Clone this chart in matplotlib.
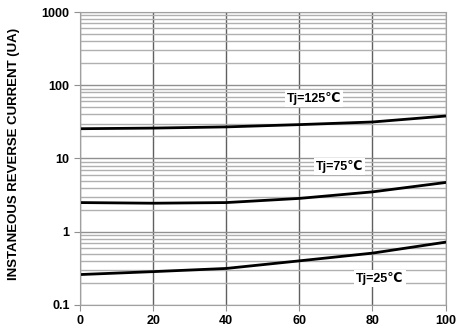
import numpy as np
import matplotlib.pyplot as plt
from matplotlib.ticker import FixedLocator, NullFormatter

plt.rcParams['font.family'] = ['Liberation Sans Narrow', 'Liberation Sans', 'DejaVu Sans']

# percent of rated reverse voltage
volts = [0, 20, 40, 60, 80, 100]
cur_125 = [25.5, 26.0, 27.0, 29.0, 31.5, 38.0]
cur_75 = [2.5, 2.45, 2.5, 2.85, 3.5, 4.7]
cur_25 = [0.26, 0.285, 0.315, 0.40, 0.51, 0.72]

labels = ['Tj=125\u2103', 'Tj=75\u2103', 'Tj=25\u2103']
label_pos = [(64, 66), (71, 7.8), (82, 0.23)]

xticks = [0, 20, 40, 60, 80, 100]
yticks = [0.1, 1, 10, 100, 1000]
ytick_labels = ['0.1', '1', '10', '100', '1000']

fig = plt.figure(figsize=(4.57, 3.34), dpi=100)
ax = fig.add_axes([0.175, 0.087, 0.80, 0.877])

ax.set_yscale('log')
ax.set_xlim(0, 100)
ax.set_ylim(0.1, 1000)

# minor grid: dense gray lines
minors = [m * 10.0**k for k in range(-1, 3) for m in range(2, 10)]
ax.yaxis.set_minor_locator(FixedLocator(minors))
ax.yaxis.set_minor_formatter(NullFormatter())
ax.grid(True, which='minor', axis='y', color='#b0b0b0', lw=1.0)
ax.grid(True, which='major', axis='y', color='#909090', lw=1.0)
ax.grid(True, which='major', axis='x', color='#606060', lw=1.0)
ax.tick_params(which='minor', length=0)

for cur in (cur_125, cur_75, cur_25):
    ax.plot(volts, cur, color='black', lw=2.0)

for txt, (x, y) in zip(labels, label_pos):
    ax.text(x, y, txt, ha='center', va='center', fontsize=9, fontweight='bold',
            bbox=dict(facecolor='white', edgecolor='none', pad=1.5))

ax.set_xticks(xticks)
ax.set_xticklabels([str(v) for v in xticks])
ax.set_yticks(yticks)
ax.set_yticklabels(ytick_labels)
ax.tick_params(which='major', length=4, color='#909090', labelsize=9)
for lab in ax.get_xticklabels() + ax.get_yticklabels():
    lab.set_fontweight('bold')

for s in ax.spines.values():
    s.set_color('#a0a0a0')

ax.set_ylabel('INSTANEOUS REVERSE CURRENT (UA)', fontsize=9.5, fontweight='bold')
ax.yaxis.set_label_coords(-0.165, 0.515)

fig.savefig('out.png', dpi=100)
